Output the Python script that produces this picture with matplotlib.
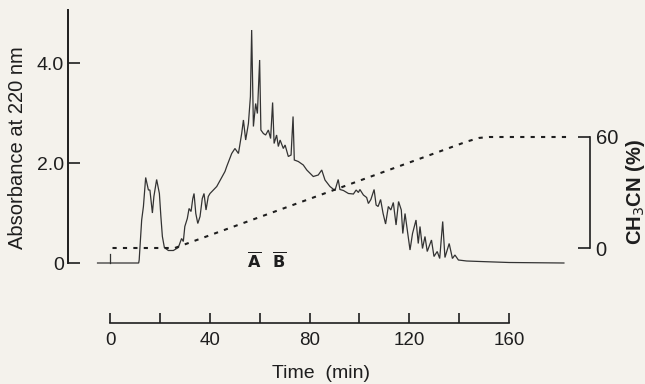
import matplotlib
matplotlib.use("Agg")
import matplotlib.pyplot as plt

plt.rcParams['font.family'] = ['Liberation Sans', 'DejaVu Sans']

# ---- data ----
time_min = [-5, 11.5, 11.7, 12.7, 13.4, 14.3, 15.4, 16.0, 17.0, 17.6, 18.7, 19.8, 20.4, 21.0,
            21.8, 23.4, 25.4, 27.4, 28.7, 29.4, 30.0, 31.0, 31.7, 32.5, 33.2, 33.7, 34.4,
            35.2, 36.1, 37.0, 37.7, 38.5, 39.4, 40.1, 42.8, 46.1, 46.8, 48.8, 50.1, 51.5,
            52.8, 53.5, 54.4, 55.5, 56.3, 56.8, 57.5, 58.4, 59.1, 60.0, 60.5, 61.5, 62.4,
            63.5, 64.4, 65.2, 65.8, 66.8, 67.5, 68.2, 69.5, 70.2, 71.5, 72.6, 73.4, 73.9,
            75.5, 77.5, 78.9, 80.9, 81.5, 83.5, 84.9, 86.2, 88.2, 90.2, 91.5, 92.2, 93.6,
            95.6, 97.6, 98.7, 99.6, 100.2, 101.6, 102.9, 103.6, 104.6, 105.9, 106.7, 107.5,
            108.5, 109.5, 110.5, 111.6, 112.6, 113.6, 114.7, 115.7, 116.8, 117.4, 118.3,
            119.2, 120.3, 121.3, 122.7, 123.6, 124.3, 125.3, 126.3, 127.2, 128.9, 129.9,
            131.2, 132.2, 133.4, 134.3, 136.0, 137.3, 138.3, 139.7, 143.0, 148.4, 160.0, 182.0]
absorbance = [0.0, 0.0, 0.06, 0.86, 1.13, 1.71, 1.46, 1.46, 1.0, 1.33, 1.67, 1.39, 0.93, 0.53,
              0.31, 0.25, 0.25, 0.31, 0.49, 0.43, 0.73, 0.89, 1.09, 1.03, 1.29, 1.39, 0.99,
              0.79, 0.93, 1.29, 1.39, 1.06, 1.33, 1.39, 1.53, 1.83, 1.93, 2.19, 2.29, 2.19,
              2.59, 2.86, 2.46, 2.79, 3.33, 4.66, 2.73, 3.19, 2.99, 4.06, 2.66, 2.59, 2.56,
              2.66, 2.49, 3.21, 2.39, 2.56, 2.33, 2.46, 2.29, 2.36, 2.13, 2.16, 2.93, 2.06,
              2.03, 1.96, 1.86, 1.76, 1.73, 1.76, 1.86, 1.66, 1.53, 1.45, 1.67, 1.47, 1.45,
              1.39, 1.38, 1.46, 1.41, 1.47, 1.36, 1.31, 1.19, 1.27, 1.47, 1.16, 1.13,
              1.27, 0.99, 0.78, 1.13, 1.06, 1.21, 0.76, 1.23, 1.06, 0.59, 0.99,
              0.66, 0.26, 0.59, 0.86, 0.39, 0.73, 0.29, 0.53, 0.23, 0.46, 0.13,
              0.23, 0.09, 0.83, 0.11, 0.39, 0.09, 0.16, 0.06, 0.04, 0.03, 0.01, 0.0]

injection_time = [0, 0]
injection_abs = [0, 0.18]

gradient_time = [1, 26, 143, 148, 152, 183]
gradient_pct = [0, 0, 57.5, 59.5, 60, 60]

fraction_labels = ['A', 'B']
fraction_times = [57.7, 67.8]

x_major = [0, 40, 80, 120, 160]
x_minor = [20, 60, 100, 140]
y_ticks = [0, 2, 4]
y_ticklabels = ['0', '2.0', '4.0']
pct_ticks = [0, 60]

# ---- layout ----
W, H = 645, 384
BG = '#f4f2ec'
INK = '#1e1e1e'
fig = plt.figure(figsize=(W / 100, H / 100), dpi=100, facecolor=BG)

px_x0, px_per_min = 110, 2.494
px_y0, px_per_abs = 263, 50
xl = (-20, 195)
yl = (-1.4, 5.2)
left_px = px_x0 + xl[0] * px_per_min
right_px = px_x0 + xl[1] * px_per_min
bot_px = px_y0 - yl[0] * px_per_abs
top_px = px_y0 - yl[1] * px_per_abs
ax_w = right_px - left_px
ax_h = bot_px - top_px
ax = fig.add_axes([left_px / W, 1 - bot_px / H, ax_w / W, ax_h / H])
ax.set_facecolor(BG)
ax.set_xlim(*xl)
ax.set_ylim(*yl)

ax.plot(time_min, absorbance, color='#333333', lw=0.9, solid_joinstyle='miter')
ax.plot(injection_time, injection_abs, color='#333333', lw=0.9)

for lab, t in zip(fraction_labels, fraction_times):
    ax.text(t, 0.02, r'$\overline{\mathbf{%s}}$' % lab, ha='center', va='center',
            fontsize=11.5, color=INK)

# left spine
for s in ['top', 'right']:
    ax.spines[s].set_visible(False)
ax.spines['left'].set_position(('data', -16.8))
ax.spines['left'].set_bounds(0, 5.06)
ax.spines['left'].set_linewidth(1.4)
ax.spines['left'].set_color(INK)
ax.set_yticks(y_ticks)
ax.set_yticklabels(y_ticklabels)
ax.tick_params(axis='y', direction='in', length=8.5, width=1.2, color=INK,
               labelsize=14, labelcolor=INK, pad=3)
ax.set_ylabel('Absorbance at 220 nm', fontsize=14.5, color=INK)
ax.yaxis.set_label_coords((18 - left_px) / ax_w, (bot_px - 148) / ax_h)
ax.yaxis.label.set_va('center')

# bottom axis (offset)
ax.spines['bottom'].set_position(('data', -1.2))
ax.spines['bottom'].set_bounds(0, 160)
ax.spines['bottom'].set_linewidth(1.2)
ax.spines['bottom'].set_color(INK)
ax.set_xticks(x_major)
ax.set_xticks(x_minor, minor=True)
ax.set_xticklabels([str(v) for v in x_major])
ax.tick_params(axis='x', which='both', direction='in', length=7.5, width=1.2, color=INK,
               labelsize=13.5, labelcolor=INK, pad=6.5)
ax.set_xlabel('Time  (min)', fontsize=14, color=INK)
ax.xaxis.set_label_coords((321 - left_px) / ax_w, (bot_px - 373) / ax_h)
ax.xaxis.label.set_va('center')

# right axis: CH3CN %
ax2 = ax.twinx()
pct_per_px = 1.85
pct_y0 = 248
ax2.set_ylim(-(bot_px - pct_y0) / pct_per_px, (pct_y0 - top_px) / pct_per_px)
ax2.plot(gradient_time, gradient_pct, color=INK, lw=1.5, linestyle=(0, (2, 3)))
for s in ['top', 'left', 'bottom']:
    ax2.spines[s].set_visible(False)
ax2.spines['right'].set_position(('data', 192.5))
ax2.spines['right'].set_bounds(0, 60)
ax2.spines['right'].set_linewidth(1.2)
ax2.spines['right'].set_color(INK)
ax2.set_yticks(pct_ticks)
ax2.set_yticklabels(['0', '60'])
ax2.tick_params(axis='y', direction='in', length=9, width=1.2, color=INK,
                labelsize=14.5, labelcolor=INK, pad=4)
ax2.set_ylabel('CH$_3$CN (%)', fontsize=14.5, color=INK, fontweight='bold')
ax2.yaxis.set_label_coords((635 - left_px) / ax_w, (bot_px - 192) / ax_h)
ax2.yaxis.label.set_va('center')

fig.savefig('out.png', dpi=100, facecolor=BG)
